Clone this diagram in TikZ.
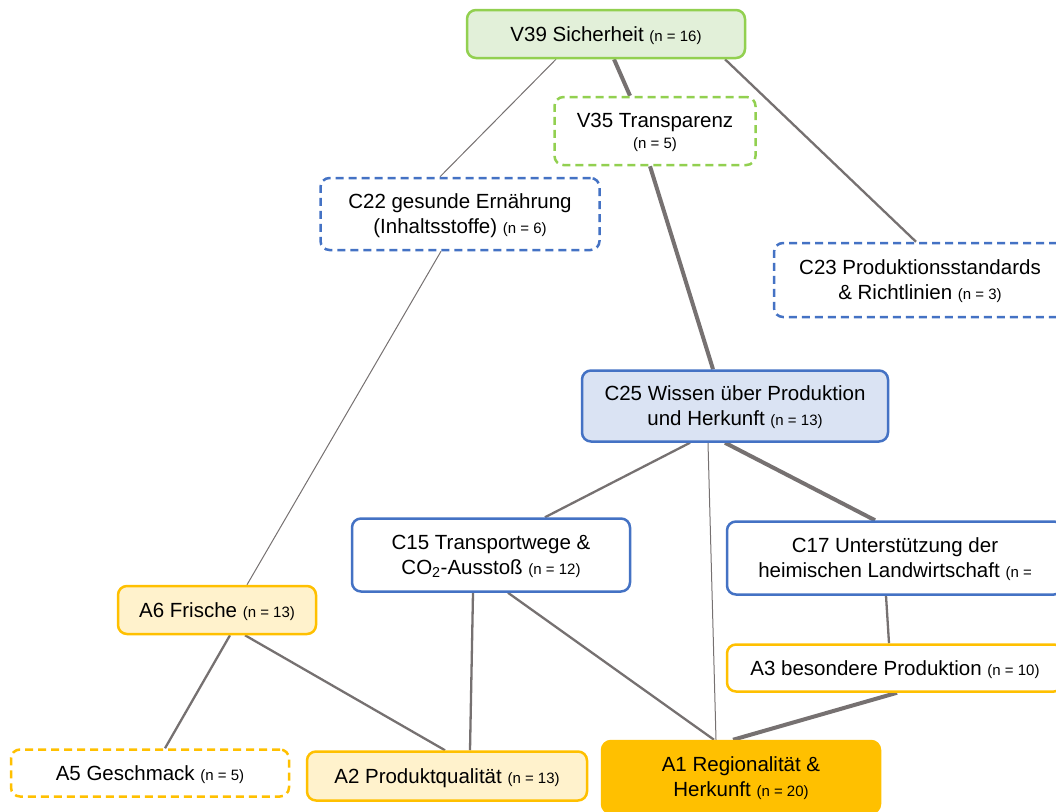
\documentclass[tikz,border=0pt]{standalone}
\usepackage{fontspec}
\setmainfont{Liberation Sans}
\usetikzlibrary{backgrounds}

\definecolor{greenline}{HTML}{92D050}
\definecolor{greenfill}{HTML}{E2F0D9}
\definecolor{blueline}{HTML}{4472C4}
\definecolor{bluefill}{HTML}{DAE3F3}
\definecolor{goldline}{HTML}{FFC000}
\definecolor{goldfill}{HTML}{FFF2CC}
\definecolor{edgegray}{HTML}{767171}

\newcommand{\nval}[1]{{\fontsize{15}{18}\selectfont (n = #1)}}

\tikzset{
  box/.style={rectangle, rounded corners=9pt, line width=2.5pt, align=center,
    inner sep=0pt, text depth=0pt, font=\fontsize{20.5}{25}\selectfont},
  greenbox/.style={box, draw=greenline, fill=greenfill},
  greendash/.style={box, draw=greenline, fill=white, dash pattern=on 8pt off 5pt},
  bluebox/.style={box, draw=blueline, fill=white},
  bluefilled/.style={box, draw=blueline, fill=bluefill},
  bluedash/.style={box, draw=blueline, fill=white, dash pattern=on 8pt off 5pt},
  goldbox/.style={box, draw=goldline, fill=white},
  goldlight/.style={box, draw=goldline, fill=goldfill},
  goldfull/.style={box, draw=goldline, fill=goldline},
  golddash/.style={box, draw=goldline, fill=white, dash pattern=on 8pt off 5pt},
  thinline/.style={draw=edgegray, line width=1pt},
  midline/.style={draw=edgegray, line width=2.3pt},
  thickline/.style={draw=edgegray, line width=4pt}
}

\begin{document}
\begin{tikzpicture}[x=1pt,y=-1pt]
  \useasboundingbox (0,0) rectangle (1056,811);

  % values
  \node[greenbox, minimum width=278, minimum height=48] (v39) at (606,34) {V39 Sicherheit \nval{16}};
  \node[greendash, minimum width=201, minimum height=68] (v35) at (655,131) {V35 Transparenz\\[-4pt] \nval{5}};

  % consequences
  \node[bluedash, minimum width=279, minimum height=72] (c22) at (460,214) {C22 gesunde Ernährung\\(Inhaltsstoffe) \nval{6}};
  \node[bluedash, minimum width=292, minimum height=74] (c23) at (920,280) {C23 Produktionsstandards\\\& Richtlinien \nval{3}};
  \node[bluefilled, minimum width=306, minimum height=71] (c25) at (735,406) {C25 Wissen über Produktion\\und Herkunft \nval{13}};
  \node[bluebox, minimum width=278, minimum height=73] (c15) at (491,555) {C15 Transportwege \&\\CO\textsubscript{2}-Ausstoß \nval{12}};
  \node[bluebox, minimum width=336, minimum height=73] (c17) at (895,558) {C17 Unterstützung der\\heimischen Landwirtschaft {\fontsize{15}{18}\selectfont (n =}};

  % attributes
  \node[goldlight, minimum width=198, minimum height=48] (a6) at (217,610) {A6 Frische \nval{13}};
  \node[goldbox, minimum width=336, minimum height=47] (a3) at (895,668) {A3 besondere Produktion \nval{10}};
  \node[golddash, minimum width=278, minimum height=47] (a5) at (150,773) {A5 Geschmack \nval{5}};
  \node[goldlight, minimum width=280, minimum height=49] (a2) at (447,776) {A2 Produktqualität \nval{13}};
  \node[goldfull, minimum width=278, minimum height=72] (a1) at (741,777) {A1 Regionalität \&\\Herkunft \nval{20}};

  \begin{scope}[on background layer]
    \draw[thinline] ([xshift=-50]v39.south) -- ([xshift=-20]c22.north);
    \draw[thickline] ([xshift=8]v39.south) -- ([xshift=-25]v35.north);
    \draw[thickline] ([xshift=-5]v35.south) -- ([xshift=-22]c25.north);
    \draw[midline] ([xshift=119]v39.south) -- ([xshift=-4]c23.north);
    \draw[thinline] ([xshift=-19]c22.south) -- ([xshift=30]a6.north);
    \draw[midline] ([xshift=-45]c25.south) -- ([xshift=54]c15.north);
    \draw[thinline] ([xshift=-27]c25.south) -- ([xshift=-25]a1.north);
    \draw[thickline] ([xshift=-10]c25.south) -- ([xshift=-20]c17.north);
    \draw[midline] ([xshift=-9]c17.south) -- ([xshift=-6]a3.north);
    \draw[thickline] ([xshift=2]a3.south) -- ([xshift=-8]a1.north);
    \draw[midline] ([xshift=-18]c15.south) -- ([xshift=23]a2.north);
    \draw[midline] ([xshift=17]c15.south) -- ([xshift=-27]a1.north);
    \draw[midline] ([xshift=28]a6.south) -- ([xshift=-2]a2.north);
    \draw[midline] ([xshift=13]a6.south) -- ([xshift=15]a5.north);
  \end{scope}
\end{tikzpicture}
\end{document}
